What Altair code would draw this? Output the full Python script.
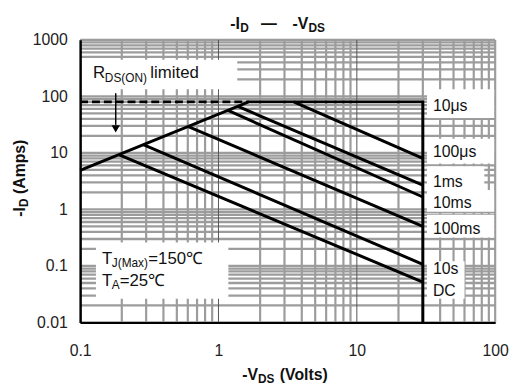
import altair as alt
import pandas as pd

FONT = "Liberation Sans"
GRID = "#9c9c9c"

# ---------------- data ----------------
x_ticks = [0.1, 1, 10, 100]
y_ticks = [0.01, 0.1, 1, 10, 100, 1000]

# R_DS(ON) limit + 10us current limit + Vds max (one polyline)
env_v = [0.1, 1.65, 30, 30]
env_i = [4.9, 80, 80, 0.01]
# dashed 80 A line
dash_v = [0.1, 1.65]
dash_i = [80, 80]

pulse_names = ["100μs", "1ms", "10ms", "100ms", "10s", "DC"]
pulse_v0 = [3.5, 1.37, 1.16, 0.60, 0.286, 0.19]
pulse_i0 = [80, 67, 57, 29.5, 14.0, 9.3]
pulse_v1 = [30, 30, 30, 30, 30, 30]
pulse_i1 = [8.0, 2.7, 1.66, 0.5, 0.107, 0.052]

curve_labels = ["10μs", "100μs", "1ms", "10ms", "100ms", "10s", "DC"]

# ---------------- layout (page pixels) ----------------
L, T = 81, 38
W, H = 420, 286
label_x = 438
label_base_y = [110, 157, 187, 208, 234, 275, 297]

Xs = alt.Scale(type="log", domain=[0.1, 100], nice=False)
Ys = alt.Scale(type="log", domain=[0.01, 1000], nice=False)
one = pd.DataFrame({"k": [0]})

x_axis = alt.Axis(values=x_ticks, format="~g", title=None, grid=False, ticks=False, tickSize=0,
                  labelPadding=20, labelFont=FONT, labelFontSize=16, labelColor="#222",
                  labelFlush=False, labelOverlap=False, domainColor="black", domainWidth=2, zindex=1)
y_axis = alt.Axis(values=y_ticks, format="~g", title=None, grid=False, ticks=False, tickSize=0,
                  labelPadding=13, labelFont=FONT, labelFontSize=16, labelColor="#222",
                  labelFlush=False, labelOverlap=False, domainColor="black", domainWidth=2.5, zindex=1)


def XE(field):
    return alt.X(field, scale=Xs, axis=x_axis)


def YE(field):
    return alt.Y(field, scale=Ys, axis=y_axis)


def text_piece(s, x, y, size, bold=False, angle=0, color="#111"):
    return alt.Chart(one).mark_text(
        text=s, font=FONT, fontSize=size,
        fontWeight="bold" if bold else "normal",
        align="left", baseline="alphabetic", angle=angle, color=color,
    ).encode(x=alt.value(x - L), y=alt.value(y - T))


def white_box(x0, x1, y0, y1):
    return alt.Chart(one).mark_rect(color="white").encode(
        x=alt.value(x0 - L), x2=alt.value(x1 - L),
        y=alt.value(y0 - T), y2=alt.value(y1 - T))


# grid
xg_minor = [m * 10.0 ** e for e in (-1, 0, 1) for m in range(2, 10)] + [100]
xg_major = [1, 10]
yg = [m * 10.0 ** e for e in range(-2, 3) for m in range(1, 10)] + [1000]

grid_h = alt.Chart(pd.DataFrame({"i": yg})).mark_rule(color=GRID, strokeWidth=2.3).encode(
    y=YE("i:Q"))
grid_v = alt.Chart(pd.DataFrame({"v": xg_minor})).mark_rule(color=GRID, strokeWidth=2.2).encode(
    x=XE("v:Q"))
grid_maj = alt.Chart(pd.DataFrame({"v": xg_major})).mark_rule(color="#555", strokeWidth=1).encode(
    x=XE("v:Q"))

boxes = [
    (81, 240, 58, 88),
    (97, 231, 243, 300),
    (432, 500, 88, 117),
    (432, 500, 138, 163),
    (432, 490, 166, 190),
    (432, 500, 190, 212),
    (432, 500, 215, 238),
    (432, 470, 262, 300),
]
box_layers = [white_box(*b) for b in boxes]

env_df = pd.DataFrame({"v": env_v, "i": env_i, "o": list(range(len(env_v)))})
envelope = alt.Chart(env_df).mark_line(color="black", strokeWidth=3, strokeJoin="miter").encode(
    x=XE("v:Q"), y=YE("i:Q"), order="o:Q")

dash_df = pd.DataFrame({"v": dash_v, "i": dash_i})
dashed = alt.Chart(dash_df).mark_line(color="black", strokeWidth=3, strokeDash=[8, 4]).encode(
    x=XE("v:Q"), y=YE("i:Q"))

rows = []
for n, a, b, c, d in zip(pulse_names, pulse_v0, pulse_i0, pulse_v1, pulse_i1):
    rows.append({"name": n, "v": a, "i": b, "o": 0})
    rows.append({"name": n, "v": c, "i": d, "o": 1})
pulses = alt.Chart(pd.DataFrame(rows)).mark_line(color="black", strokeWidth=3).encode(
    x=XE("v:Q"), y=YE("i:Q"), detail="name:N", order="o:Q")

arrow = alt.Chart(one).mark_rule(color="black", strokeWidth=1.5).encode(
    x=alt.value(117 - L), y=alt.value(92 - T), y2=alt.value(124 - T))
arrow_head = alt.Chart(one).mark_point(shape="triangle-down", filled=True, color="black",
                                       opacity=1, size=70).encode(
    x=alt.value(117 - L), y=alt.value(128 - T))

texts = []
for s, yb in zip(curve_labels, label_base_y):
    texts.append(text_piece(s, label_x, yb, 16))
# R_DS(ON) limited
texts += [text_piece("R", 94, 77, 17), text_piece("DS(ON)", 106, 81, 12),
          text_piece("limited", 152, 77, 17)]
# temperatures
texts += [text_piece("T", 103, 265, 17), text_piece("J(Max)", 113, 268, 12),
          text_piece("=150℃", 150, 265, 17),
          text_piece("T", 103, 287, 17), text_piece("A", 113, 290, 12),
          text_piece("=25℃", 121, 287, 17)]
# title
texts += [text_piece("-I", 233, 27, 16, True), text_piece("D", 243, 30, 12, True),
          text_piece("—", 264, 27, 16, True),
          text_piece("-V", 296, 27, 16, True), text_piece("DS", 312, 30, 12, True)]
# x title
texts += [text_piece("-V", 245, 382, 16, True), text_piece("DS", 261, 385, 12, True),
          text_piece("(Volts)", 283, 382, 16, True)]
# y title (rotated)
yb = 217
texts += [text_piece("-I", 25, yb, 16, True, 270),
          text_piece("D", 28, yb - 9.8, 12, True, 270),
          text_piece("(Amps)", 25, yb - 23, 16, True, 270)]

layers = [grid_h, grid_v, grid_maj] + box_layers + [dashed, pulses, envelope, arrow, arrow_head] + texts

chart = alt.layer(*layers).properties(
    width=W, height=H,
    autosize=alt.AutoSizeParams(type="none"),
    padding={"left": 73, "top": 30, "right": 15, "bottom": 62},
    background="white",
).configure_view(stroke=None)

chart.save("out.html", embed_options={"renderer": "svg", "actions": False})
